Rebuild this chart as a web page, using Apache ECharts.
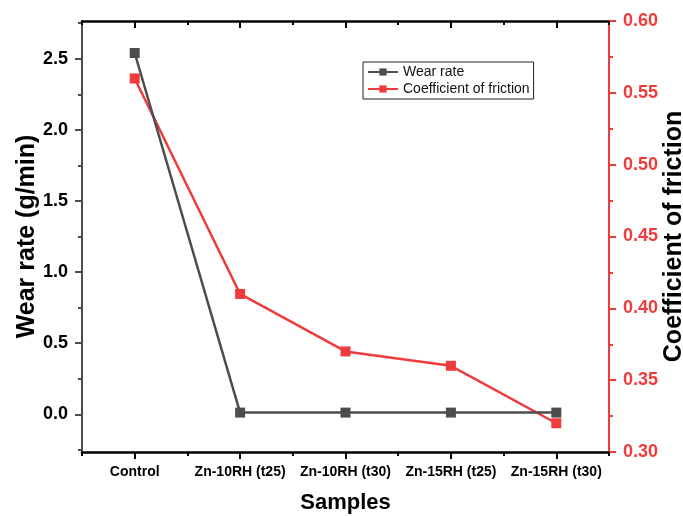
<!DOCTYPE html>
<html><head><meta charset="utf-8">
<script src="https://cdn.jsdelivr.net/npm/echarts@6/dist/echarts.min.js"></script>
<style>html,body{margin:0;padding:0;background:#fff;overflow:hidden}#c{width:683px;height:516px}</style>
</head><body><div id="c"></div>
<script>
const categories = ['Control', 'Zn-10RH (t25)', 'Zn-10RH (t30)', 'Zn-15RH (t25)', 'Zn-15RH (t30)'];
const wearRate = [2.54, 0.012, 0.012, 0.012, 0.012];
const cof = [0.56, 0.41, 0.37, 0.36, 0.32];
const leftMajor = [0, 0.5, 1.0, 1.5, 2.0, 2.5];
const leftMinor = [-0.25, 0.25, 0.75, 1.25, 1.75, 2.25, 2.75];

const GREY = '#4d4d4d';
const RED = '#ef3b3b';
const FONT = 'Liberation Sans, Arial, sans-serif';

const chart = echarts.init(document.getElementById('c'), null, {renderer: 'canvas'});
const catBase = {type: 'category', data: categories, boundaryGap: true, gridIndex: 0};
chart.setOption({
  animation: false,
  backgroundColor: '#fff',
  grid: {left: 82, right: 74, top: 21, bottom: 64, containLabel: false, outerBoundsMode: 'none'},
  legend: {
    orient: 'vertical', left: 363, top: 62,
    backgroundColor: '#fff', borderColor: '#222', borderWidth: 1, borderRadius: 0,
    padding: [3, 4, 3, 4], itemGap: 3, itemWidth: 30, itemHeight: 9,
    textStyle: {fontFamily: FONT, fontSize: 14, color: '#111'},
    data: ['Wear rate', 'Coefficient of friction']
  },
  xAxis: [
    Object.assign({}, catBase, {
      position: 'bottom',
      name: 'Samples', nameLocation: 'middle', nameGap: 40, nameMoveOverlap: false,
      nameTextStyle: {fontFamily: FONT, fontWeight: 'bold', fontSize: 22, color: '#000'},
      axisLine: {show: true, onZero: false, lineStyle: {color: '#000', width: 2.5}},
      axisTick: {show: true, alignWithLabel: true, length: 7, inside: false, lineStyle: {color: '#000', width: 2}},
      axisLabel: {interval: 0, hideOverlap: false, margin: 13, fontFamily: FONT, fontWeight: 'bold', fontSize: 14, color: '#000'},
      splitLine: {show: false}
    }),
    Object.assign({}, catBase, {
      position: 'bottom',
      axisLine: {show: false, onZero: false},
      axisTick: {show: true, alignWithLabel: false, length: 4, inside: false, lineStyle: {color: '#000', width: 2}},
      axisLabel: {show: false}, splitLine: {show: false}
    }),
    Object.assign({}, catBase, {
      position: 'top',
      axisLine: {show: true, onZero: false, lineStyle: {color: '#000', width: 2.5}},
      axisTick: {show: true, alignWithLabel: true, length: 7, inside: true, lineStyle: {color: '#000', width: 2}},
      axisLabel: {show: false}, splitLine: {show: false}
    }),
    Object.assign({}, catBase, {
      position: 'top',
      axisLine: {show: false, onZero: false},
      axisTick: {show: true, alignWithLabel: false, length: 4, inside: true, lineStyle: {color: '#000', width: 2}},
      axisLabel: {show: false}, splitLine: {show: false}
    })
  ],
  yAxis: [
    {
      type: 'value', position: 'left', min: -0.265, max: 2.765,
      name: 'Wear rate (g/min)', nameLocation: 'middle', nameGap: 42, nameRotate: 90, nameMoveOverlap: false,
      nameTextStyle: {fontFamily: FONT, fontWeight: 'bold', fontSize: 25, color: '#000'},
      axisLine: {show: true, onZero: false, lineStyle: {color: GREY, width: 2}},
      axisTick: {show: true, length: 7, customValues: leftMajor, lineStyle: {color: GREY, width: 2}},
      axisLabel: {margin: 14, customValues: leftMajor, formatter: v => Number(v).toFixed(1),
        fontFamily: FONT, fontWeight: 'bold', fontSize: 18, color: '#000'},
      splitLine: {show: false}
    },
    {
      type: 'value', position: 'right', min: 0.3, max: 0.6, interval: 0.05,
      name: 'Coefficient of friction', nameLocation: 'middle', nameGap: 53, nameRotate: 90, nameMoveOverlap: false,
      nameTextStyle: {fontFamily: FONT, fontWeight: 'bold', fontSize: 25, color: '#000'},
      axisLine: {show: true, onZero: false, lineStyle: {color: RED, width: 2}},
      axisTick: {show: true, length: 7, lineStyle: {color: RED, width: 2}},
      minorTick: {show: true, splitNumber: 2, length: 4, lineStyle: {color: RED, width: 2}},
      axisLabel: {margin: 14, formatter: v => Number(v).toFixed(2),
        fontFamily: FONT, fontWeight: 'bold', fontSize: 18, color: RED},
      splitLine: {show: false}
    },
    {
      type: 'value', position: 'left', min: -0.265, max: 2.765,
      axisLine: {show: false, onZero: false},
      axisTick: {show: true, length: 4, customValues: leftMinor, lineStyle: {color: GREY, width: 2}},
      axisLabel: {show: false}, splitLine: {show: false}
    }
  ],
  series: [
    {
      name: 'Wear rate', type: 'line', xAxisIndex: 0, yAxisIndex: 0, data: wearRate,
      symbol: 'rect', symbolSize: 10,
      lineStyle: {color: GREY, width: 2.5}, itemStyle: {color: GREY},
      z: 3
    },
    {
      name: 'Coefficient of friction', type: 'line', xAxisIndex: 0, yAxisIndex: 1, data: cof,
      symbol: 'rect', symbolSize: 10,
      lineStyle: {color: RED, width: 2.5}, itemStyle: {color: RED},
      z: 2
    }
  ]
});
</script>
</body></html>
